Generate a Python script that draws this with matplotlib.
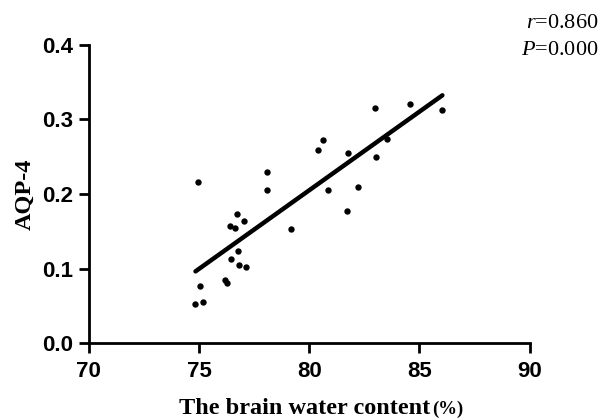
import numpy as np
import matplotlib
matplotlib.use("Agg")
import matplotlib.pyplot as plt

# brain water content (%) vs AQP-4 expression
water = [74.84, 75.16, 75.05, 74.96, 76.18, 76.29, 76.39, 76.62, 76.74, 77.03,
         76.44, 76.79, 76.82, 77.13, 78.10, 78.09, 79.17, 80.40, 80.61, 80.84,
         81.75, 81.69, 82.19, 83.00, 83.05, 83.53, 84.57, 86.04]
aqp4 = [0.053, 0.055, 0.077, 0.216, 0.085, 0.081, 0.157, 0.154, 0.173, 0.164,
        0.113, 0.124, 0.105, 0.102, 0.229, 0.205, 0.153, 0.259, 0.273, 0.206,
        0.255, 0.177, 0.210, 0.315, 0.249, 0.274, 0.320, 0.313]
x_ticks = [70, 75, 80, 85, 90]
y_ticks = [0.0, 0.1, 0.2, 0.3, 0.4]
r_text = "0.860"
p_text = "0.000"

plt.rcParams["mathtext.fontset"] = "custom"
plt.rcParams["mathtext.it"] = "Liberation Serif:italic"
plt.rcParams["mathtext.rm"] = "Liberation Serif"

x = np.array(water)
y = np.array(aqp4)
slope, icpt = np.polyfit(x, y, 1)
xf = np.array([x.min(), x.max()])

fig = plt.figure(figsize=(6.04, 4.19), dpi=100)
ax = fig.add_axes([0.147, 0.181, 0.730, 0.712])

ax.scatter(x, y, s=21, color="black", zorder=3, linewidths=0)
ax.plot(xf, slope * xf + icpt, color="black", lw=3.2, solid_capstyle="round")

ax.set_xlim(70, 90)
ax.set_ylim(0, 0.4)
ax.set_xticks(x_ticks)
ax.set_yticks(y_ticks)
ax.set_xticklabels([str(v) for v in x_ticks])
ax.set_yticklabels([f"{v:.1f}" for v in y_ticks])
for lab in ax.get_xticklabels() + ax.get_yticklabels():
    lab.set_fontfamily("Liberation Sans")
    lab.set_fontweight("bold")
    lab.set_fontsize(16)
ax.tick_params(direction="out", length=7, width=2)
ax.tick_params(axis="x", pad=6)
ax.tick_params(axis="y", pad=4)
ax.spines["top"].set_visible(False)
ax.spines["right"].set_visible(False)
for s in ("left", "bottom"):
    ax.spines[s].set_linewidth(2)

ax.set_ylabel("AQP-4", family="Liberation Serif", weight="bold", fontsize=17.5, labelpad=5)

# x label: main text centred under the axes, smaller "(%)" appended
xc = 0.147 + 0.730 / 2
fig.text(xc + 0.2, 0.012, "The brain water content", family="Liberation Serif",
         weight="bold", fontsize=17.5, ha="right", va="baseline")
fig.text(xc + 0.203, 0.012, "(%)", family="Liberation Serif", weight="bold",
         fontsize=13.5, ha="left", va="baseline")

fig.text(0.99, 0.933, r"$\mathit{r}$=" + r_text, family="Liberation Serif",
         fontsize=16, ha="right", va="baseline")
fig.text(0.99, 0.869, r"$\mathit{P}$=" + p_text, family="Liberation Serif",
         fontsize=16, ha="right", va="baseline")

fig.savefig("out.png", dpi=100)
